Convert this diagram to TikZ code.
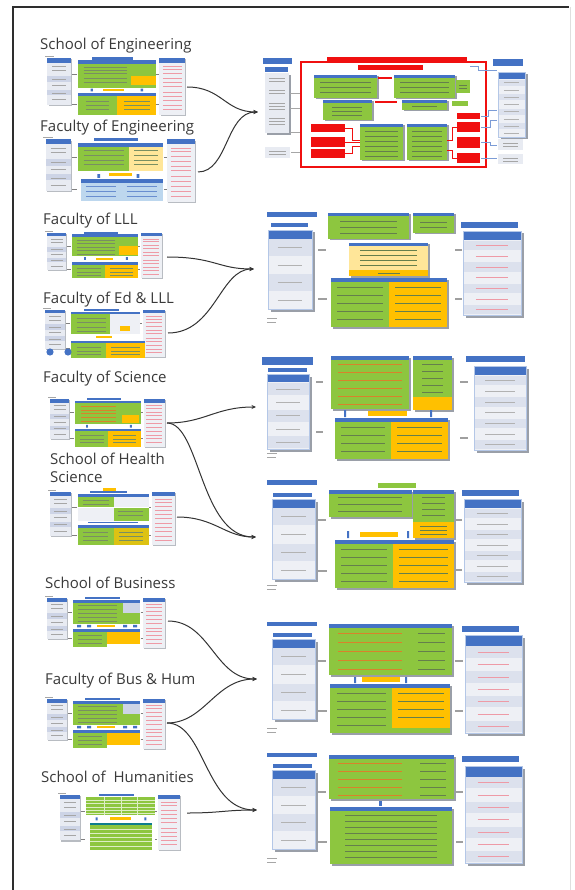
\documentclass[tikz,border=0pt]{standalone}
\usepackage{fontspec}
\setmainfont{Open Sans}
\usetikzlibrary{arrows.meta}
\definecolor{hdrblue}{HTML}{4472C4}
\definecolor{grn}{HTML}{8DC63F}
\definecolor{ylw}{HTML}{FFC000}
\definecolor{lylw}{HTML}{FFE699}
\definecolor{colbg}{HTML}{E8EBF2}
\definecolor{colbgb}{HTML}{EEF0F5}
\definecolor{rowband}{HTML}{CDD4E6}
\definecolor{shadowgray}{HTML}{9A9FA8}
\definecolor{pinkline}{HTML}{EE9AA6}
\definecolor{txtdark}{HTML}{3F5F1F}
\definecolor{txtorange}{HTML}{D9822B}
\definecolor{redbox}{HTML}{F01010}
\definecolor{lblue}{HTML}{BDD7EE}
\definecolor{labelgray}{HTML}{3A3A3A}
\definecolor{framegray}{HTML}{2E2E2E}
\definecolor{conncol}{HTML}{333333}
\tikzset{
 lbl/.style={font=\fontsize{15}{18}\selectfont, text=labelgray, anchor=west, inner sep=0pt, align=left},
 conn/.style={draw=conncol, line width=1pt, -{Stealth[length=4.5pt,width=4pt]}},
 tln/.style={line width=0.35pt, draw=txtdark!70},
 oln/.style={line width=0.5pt, draw=txtorange},
 dln/.style={line width=0.5pt, draw=txtdark!80},
 gln/.style={line width=0.4pt, draw=gray!70},
 bln/.style={line width=0.4pt, draw=hdrblue!80},
 dashbar/.style={line width=1.3pt, draw=gray!75},
}
% text lines
\newcommand\tlines[6]{\foreach \yy in {#3,#4,...,#5} \draw[#6] (#1,\yy) -- (#2,\yy);}
% block with header
\newcommand\gblk[5]{%
 \fill[shadowgray] ({#1+1.5},{#2+1.5}) rectangle ({#3+1.5},{#4+1.5});
 \fill[#5] (#1,#2) rectangle (#3,#4);
 \fill[hdrblue] (#1,#2) rectangle (#3,{#2+3.5});}
% column box
\newcommand\tcol[6]{%
 \pgfmathsetmacro\cxa{#1}\pgfmathsetmacro\cxb{#2}\pgfmathsetmacro\cya{#3}\pgfmathsetmacro\cyb{#4}
 \pgfmathsetmacro\hh{(\cyb-\cya)*0.11}
 \pgfmathsetmacro\rh{(\cyb-\cya-\hh)/#5}
 \fill[shadowgray] ({\cxa+2.5},{\cya+2.5}) rectangle ({\cxb+2.5},{\cyb+2.5});
 \fill[colbgb] (\cxa,\cya) rectangle (\cxb,\cyb);
 \fill[hdrblue] (\cxa,\cya) rectangle (\cxb,{\cya+\hh});
 \foreach \i in {1,...,#5} {
   \pgfmathsetmacro\ry{\cya+\hh+(\i-1)*\rh}
   \pgfmathtruncatemacro\rowpar{mod(\i,2)}
   \ifnum\rowpar=1 \fill[rowband!70] (\cxa,{\ry+0.6}) rectangle (\cxb,{\ry+\rh-0.6});\fi
   \draw[#6, line width=0.8pt] ({\cxa+(\cxb-\cxa)*0.22},{\ry+\rh*0.5}) -- ({\cxb-(\cxb-\cxa)*0.22},{\ry+\rh*0.5});
 }
 \draw[hdrblue!40, line width=0.3pt] (\cxa,\cya) rectangle (\cxb,\cyb);}
% small thumbnail frame (local 120 x 55)
\newcommand\thumbframe{%
 \draw[gray!70, line width=0.4pt] (0,0.3) -- (8,0.3);
 \fill[shadowgray!70] (3,3) rectangle (23,46);
 \fill[colbg] (2,2) rectangle (22,45);
 \fill[hdrblue] (2,2) rectangle (22,6);
 \fill[rowband] (2,18) rectangle (22,24);
 \fill[rowband] (2,31) rectangle (22,36);
 \foreach \yy in {9,13,21,27,34,40} \draw[gln] (6,\yy) -- (18,\yy);
 \draw[gray, line width=0.6pt] (23,17)--(27,17) (23,44)--(27,44) (95.5,17)--(97.5,17) (95.5,44)--(97.5,44);
 \fill[shadowgray!70] (99,3) rectangle (121,55);
 \fill[colbgb] (98,2) rectangle (120,54);
 \fill[hdrblue] (98,2) rectangle (120,6);
 \foreach \yy in {9,12,16,20,24,28,33,37,41,45,49} \draw[pinkline, line width=0.5pt] (101,\yy) -- (117,\yy);
 \fill[hdrblue] (40,0.8) rectangle (75,3.3);}
\newcommand\thumb[5]{%
 \begin{scope}[shift={(#1,#2)}, xscale={#3/120}, yscale={#4/55}]
 \thumbframe
 #5
 \end{scope}}
\begin{document}
\begin{tikzpicture}[x=1pt,y=-1pt]
\useasboundingbox (0,0) rectangle (574,890);
\fill[white] (0,0) rectangle (574,890);
\draw[gray!25, line width=0.6pt] (570,7) -- (570,890);
\draw[framegray, line width=1.3pt] (13,890) -- (13,7) -- (569,7);

% ---------- labels ----------
\node[lbl] (lab1) at (40,46) {School of Engineering};
\node[lbl] (lab2) at (40,128) {Faculty of Engineering};
\node[lbl] (lab3) at (43,221) {Faculty of LLL};
\node[lbl] (lab4) at (43,300) {Faculty of Ed \& LLL};
\node[lbl] (lab5) at (43,379) {Faculty of Science};
\node[lbl] (lab6) at (50,468) {School of Health\\Science};
\node[lbl] (lab8) at (45,583) {School of Business};
\node[lbl] (lab9) at (45,681) {Faculty of Bus \& Hum};
\node[lbl] (lab10) at (41,777) {School of\ \ Humanities};

% ---------- left thumbnails ----------
\thumb{45}{56}{140}{60}{%
 \fill[hdrblue] (28,4) rectangle (95,7);
 \fill[grn] (28,7) rectangle (95,29);
 \fill[ylw] (74,18) rectangle (95,27);
 \foreach \yy in {10,13,16,20,24} \draw[tln] (33,\yy) -- (70,\yy);
 \fill[hdrblue] (39,30) rectangle (41,32.5) (82,30) rectangle (84,32.5);
 \fill[ylw] (50,30) rectangle (68,32.5);
 \fill[hdrblue] (28,34) rectangle (95,37);
 \fill[grn] (28,37) rectangle (62,54);
 \fill[ylw] (62,37) rectangle (95,54);
 \foreach \yy in {41,45,49} {\draw[tln] (35,\yy) -- (55,\yy); \draw[tln] (68,\yy) -- (90,\yy);}}
\thumb{43}{137}{152}{66}{%
 \fill[hdrblue] (28,5) rectangle (95,8);
 \fill[grn] (28,8) rectangle (68,28);
 \fill[lylw] (68,8) rectangle (95,28);
 \foreach \yy in {11,15,19,23} {\draw[tln] (32,\yy) -- (64,\yy); \draw[tln] (72,\yy) -- (91,\yy);}
 \fill[ylw] (52,30) rectangle (70,32.5);
 \fill[hdrblue] (43,31) rectangle (45,34) (74,31) rectangle (76,34);
 \fill[hdrblue] (30,35) rectangle (95,38);
 \fill[lblue] (30,38) rectangle (95,53);
 \foreach \yy in {41,45,49} {\draw[bln] (34,\yy) -- (58,\yy); \draw[bln] (66,\yy) -- (90,\yy);}}
\thumb{45}{231}{117}{48}{%
 \fill[hdrblue] (28,4) rectangle (95,7);
 \fill[grn] (28,7) rectangle (95,29);
 \fill[ylw] (76,17) rectangle (95,27);
 \foreach \yy in {10,14,18,22,26} \draw[tln] (33,\yy) -- (72,\yy);
 \fill[hdrblue] (40,30) rectangle (42,33) (83,30) rectangle (85,33);
 \fill[ylw] (52,30.5) rectangle (70,33);
 \fill[hdrblue] (28,36) rectangle (95,39);
 \fill[grn] (28,39) rectangle (62,54);
 \fill[ylw] (62,39) rectangle (95,54);
 \foreach \yy in {43,47,51} {\draw[tln] (33,\yy) -- (57,\yy); \draw[tln] (67,\yy) -- (90,\yy);}}
\thumb{43}{308}{122}{50}{%
 \fill[hdrblue] (28,4) rectangle (95,7);
 \fill[grn] (28,7) rectangle (66,29);
 \fill[colbgb] (66,7) rectangle (95,29);
 \fill[ylw] (76,20) rectangle (86,25);
 \foreach \yy in {11,16,21,26} \draw[tln] (33,\yy) -- (62,\yy);
 \fill[ylw] (52,30.5) rectangle (68,33);
 \fill[hdrblue] (28,36) rectangle (100,39);
 \fill[grn] (28,39) rectangle (62,55);
 \fill[ylw] (62,39) rectangle (100,55);
 \foreach \yy in {43,47,51} {\draw[tln] (33,\yy) -- (57,\yy); \draw[tln] (67,\yy) -- (95,\yy);}}
\fill[hdrblue] (50,352) circle (3.6);
\fill[hdrblue] (68,352) circle (3.6);
\thumb{48}{397}{117}{51}{%
 \fill[hdrblue] (28,4) rectangle (95,7);
 \fill[grn] (28,7) rectangle (95,29);
 \fill[ylw] (76,19) rectangle (93,28);
 \foreach \yy in {10,14,18,22,26} \draw[oln] (34,\yy) -- (70,\yy);
 \fill[hdrblue] (39,30) rectangle (41,33) (84,30) rectangle (86,33);
 \fill[hdrblue] (28,34) rectangle (95,37);
 \fill[grn] (28,37) rectangle (62,54);
 \fill[ylw] (62,37) rectangle (95,54);
 \foreach \yy in {41,45,49} {\draw[tln] (33,\yy) -- (57,\yy); \draw[tln] (67,\yy) -- (90,\yy);}}
\thumb{48}{490}{127}{56}{%
 \fill[ylw] (52,-1.5) rectangle (64,0.5);
 \fill[hdrblue] (28,4) rectangle (95,7);
 \fill[grn] (28,7) rectangle (62,17);
 \fill[colbgb] (28,18) rectangle (62,30);
 \fill[colbgb] (62,7) rectangle (95,17);
 \fill[grn] (62,18) rectangle (95,30);
 \foreach \yy in {10,14} \draw[tln] (33,\yy) -- (58,\yy);
 \foreach \yy in {21,25} \draw[tln] (66,\yy) -- (90,\yy);
 \fill[hdrblue] (38,31) rectangle (85,32.5);
 \fill[hdrblue] (28,34) rectangle (95,37);
 \fill[grn] (28,37) rectangle (62,54);
 \fill[ylw!70!grn] (62,37) rectangle (95,54);
 \foreach \yy in {41,45,49} {\draw[tln] (33,\yy) -- (57,\yy); \draw[tln] (67,\yy) -- (90,\yy);}}
\thumb{45}{596}{120}{53}{%
 \fill[hdrblue] (28,4) rectangle (95,7);
 \fill[grn] (28,7) rectangle (95,29);
 \fill[rowband] (78,7) rectangle (95,18);
 \foreach \yy in {10,14,18,22,26} \draw[tln] (33,\yy) -- (72,\yy);
 \fill[hdrblue] (32,30) rectangle (36,32.5) (42,30) rectangle (46,32.5) (78,30) rectangle (82,32.5) (88,30) rectangle (92,32.5);
 \fill[ylw] (52,30) rectangle (70,32.5);
 \fill[hdrblue] (28,34) rectangle (95,37);
 \fill[grn] (28,37) rectangle (62,53);
 \fill[ylw] (62,37) rectangle (95,50);
 \foreach \yy in {41,45,49} {\draw[tln] (33,\yy) -- (57,\yy);}}
\thumb{45}{697}{120}{53}{%
 \fill[hdrblue] (28,4) rectangle (95,7);
 \fill[grn] (28,7) rectangle (95,29);
 \fill[rowband] (78,7) rectangle (95,18);
 \foreach \yy in {10,14,18,22,26} \draw[tln] (33,\yy) -- (72,\yy);
 \fill[hdrblue] (32,30) rectangle (36,32.5) (42,30) rectangle (46,32.5) (78,30) rectangle (82,32.5) (88,30) rectangle (92,32.5);
 \fill[ylw] (52,30) rectangle (70,32.5);
 \fill[hdrblue] (28,34) rectangle (95,37);
 \fill[grn] (28,37) rectangle (62,53);
 \fill[ylw] (62,37) rectangle (95,50);
 \foreach \yy in {41,45,49} {\draw[tln] (33,\yy) -- (57,\yy);}}
\thumb{58}{793}{122}{58}{%
 \fill[grn] (28,4) rectangle (95,21);
 \foreach \yy in {7,10,13,16,19} \draw[line width=0.3pt, draw=white!70!grn] (28,\yy) -- (95,\yy);
 \foreach \xx in {45,62,78} \draw[line width=0.3pt, draw=white!70!grn] (\xx,4) -- (\xx,21);
 \fill[hdrblue] (37,23) rectangle (39,26) (85,23) rectangle (87,26);
 \fill[ylw] (51,23) rectangle (72,25.5);
 \fill[teal!80!hdrblue] (31,28) rectangle (92,30.5);
 \fill[grn] (31,30.5) rectangle (92,54);
 \foreach \yy in {34,38,42,46,50} \draw[line width=0.3pt, draw=white!70!grn] (31,\yy) -- (92,\yy);}

% ---------- target A (Engineering) ----------
\fill[hdrblue] (263,58) rectangle (292,64);
\fill[hdrblue] (265,67) rectangle (288,72);
\fill[shadowgray] (267,75) rectangle (291,135);
\fill[colbg] (265,73) rectangle (289,133);
\foreach \yy in {78,81,90,93,103,106,109,118,121,124} \draw[gln] (269,\yy) -- (285,\yy);
\fill[colbg] (265,147) rectangle (290,158);
\foreach \yy in {151,154} \draw[gln] (269,\yy) -- (286,\yy);
\draw[gray!70, line width=0.5pt] (290,93) -- (301,93) (290,108) -- (301,108) (290,132) -- (301,132) (291,152) -- (301,152);
\fill[redbox] (327,57) rectangle (467,62);
\draw[redbox, line width=1.3pt] (301,62) rectangle (486,167);
\fill[redbox] (358,65) rectangle (423,70);
\gblk{314}{75}{377}{98}{grn}
\tlines{320}{371}{82}{87}{95}{dln}
\fill[redbox] (378,77) rectangle (392,79.5);
\gblk{394}{75}{455}{98}{grn}
\tlines{400}{449}{82}{87}{95}{dln}
\fill[grn] (456,80) rectangle (470,93);
\draw[dln] (459,85) -- (467,85) (459,88) -- (467,88);
\gblk{323}{100}{372}{120}{grn}
\tlines{332}{362}{107}{111}{115}{dln}
\fill[redbox] (375,101) rectangle (397,103);
\gblk{402}{100}{447}{110}{grn}
\draw[dln] (412,106) -- (437,106);
\fill[grn] (452,101) rectangle (468,106);
\fill[redbox] (311,124) rectangle (345,132);
\fill[redbox] (311,137) rectangle (345,147);
\fill[redbox] (311,149) rectangle (345,158);
\gblk{360}{124}{403}{160}{grn}
\tlines{365}{398}{131}{136}{156}{dln}
\gblk{407}{124}{447}{160}{grn}
\tlines{412}{442}{131}{136}{156}{dln}
\draw[redbox, line width=0.6pt] (345,128) -- (352,128) -- (352,140) -- (360,140) (345,142) -- (360,142) (345,153) -- (352,153) -- (352,146) -- (360,146);
\fill[redbox] (457,113) rectangle (480,119);
\fill[redbox] (457,122) rectangle (480,132);
\fill[redbox] (457,137) rectangle (480,148);
\fill[redbox] (457,153) rectangle (480,163);
\draw[redbox, line width=0.6pt] (447,140) -- (452,140) -- (452,127) -- (457,127) (447,150) -- (452,150) -- (452,158) -- (457,158);
\fill[hdrblue] (493,59) rectangle (523,66);
\tcol{498}{525}{72}{137}{8}{gray!60}
\fill[colbg] (498,139) rectangle (523,150);
\fill[colbg] (498,154) rectangle (523,164);
\draw[gray!70, line width=0.4pt] (503,143) -- (518,143) (503,146) -- (518,146) (503,158) -- (518,158) (503,161) -- (518,161);
\draw[hdrblue!70, line width=0.5pt] (470,66) -- (478,66) -- (478,70) -- (497,70) (481,116) -- (488,116) -- (488,110) -- (497,110) (481,127) -- (490,127) -- (490,120) -- (497,120) (481,142) -- (490,142) -- (490,145) -- (497,145) (481,158) -- (497,158);

% ---------- target B (LLL) ----------
\fill[hdrblue] (267,212) rectangle (317,217);
\fill[hdrblue] (271,223) rectangle (308,227);
\tcol{268}{312}{230}{309}{4}{gray!60}
\draw[gln] (267,318) -- (277,318) (267,322) -- (276,322);
\gblk{328}{213}{409}{239}{grn}
\tlines{340}{397}{221}{227}{233}{dln}
\gblk{413}{213}{454}{233}{grn}
\tlines{420}{447}{222}{227}{227}{dln}
\gblk{349}{243}{428}{276}{lylw}
\tlines{360}{417}{250}{255}{265}{dln}
\fill[ylw] (349,270) rectangle (428,276);
\draw[dln] (378,273) -- (400,273);
\gblk{331}{278}{447}{327}{grn}
\fill[ylw] (389,281.5) rectangle (447,327);
\tlines{337}{383}{287}{295}{319}{dln}
\tlines{395}{441}{287}{295}{319}{dln}
\fill[hdrblue] (461,222) rectangle (518,228);
\tcol{463}{521}{231}{315}{7}{pinkline}
\draw[dashbar] (318,250) -- (326,250) (318,299) -- (327,299) (455,250) -- (462,250) (455,299) -- (462,299);

% ---------- target C (Science) ----------
\fill[hdrblue] (262,357) rectangle (313,365);
\fill[hdrblue] (268,368) rectangle (307,372);
\tcol{267}{309}{374}{449}{5}{gray!60}
\draw[gln] (267,453) -- (277,453) (267,457) -- (276,457);
\gblk{331}{356}{409}{409}{grn}
\tlines{338}{402}{364}{372}{404}{oln}
\gblk{413}{356}{452}{410}{grn}
\tlines{422}{443}{364}{371}{392}{dln}
\fill[ylw] (413,397) rectangle (452,410);
\fill[ylw] (368,411) rectangle (407,416);
\fill[hdrblue] (344,410) rectangle (346,417) (430,410) rectangle (432,417);
\gblk{335}{418}{448}{459}{grn}
\fill[ylw] (391,421.5) rectangle (448,459);
\tlines{341}{385}{427}{435}{451}{dln}
\tlines{397}{442}{427}{435}{451}{dln}
\fill[hdrblue] (466,356) rectangle (525,362);
\tcol{474}{526}{366}{450}{7}{gray!60}
\draw[dashbar] (316,382) -- (323,382) (316,432) -- (323,432) (460,382) -- (468,382) (460,438) -- (468,438);

% ---------- target D (Health) ----------
\fill[hdrblue] (267,480) rectangle (317,485);
\fill[grn] (378,483) rectangle (416,488);
\fill[hdrblue] (273,493) rectangle (312,497);
\tcol{272}{315}{499}{579}{4}{gray!60}
\draw[gln] (267,585) -- (277,585) (267,589) -- (276,589);
\gblk{329}{490}{412}{517}{grn}
\tlines{338}{402}{497}{504}{511}{dln}
\gblk{413}{490}{454}{538}{grn}
\tlines{422}{445}{497}{503}{515}{dln}
\fill[ylw] (413,522) rectangle (454,538);
\tlines{420}{447}{526}{530}{534}{dln}
\fill[ylw] (360,532) rectangle (398,537);
\fill[hdrblue] (347,531) rectangle (349,538) (407,531) rectangle (409,538);
\gblk{335}{540}{454}{588}{grn}
\fill[ylw] (393,543.5) rectangle (454,588);
\tlines{341}{387}{549}{557}{581}{dln}
\tlines{399}{448}{549}{557}{581}{dln}
\fill[hdrblue] (462,490) rectangle (519,496);
\tcol{464}{521}{499}{582}{7}{gray!60}
\draw[dashbar] (318,520) -- (326,520) (318,571) -- (327,571) (456,520) -- (462,520) (456,570) -- (462,570);

% ---------- target E (Business) ----------
\fill[hdrblue] (267,622) rectangle (317,626);
\fill[hdrblue] (273,633) rectangle (312,637);
\tcol{272}{315}{639}{719}{4}{gray!60}
\draw[gln] (267,728) -- (277,728) (267,732) -- (276,732);
\gblk{329}{624}{411}{675}{grn}
\tlines{338}{402}{633}{642}{669}{oln}
\gblk{411}{624}{452}{675}{grn}
\tlines{418}{445}{633}{642}{669}{dln}
\fill[ylw] (362,677) rectangle (400,682);
\fill[hdrblue] (354,677) rectangle (356,683) (405,677) rectangle (407,683);
\gblk{330}{684}{450}{733}{grn}
\fill[ylw] (392,687.5) rectangle (450,728);
\tlines{337}{386}{693}{701}{725}{dln}
\tlines{398}{444}{693}{701}{717}{dln}
\fill[hdrblue] (462,626) rectangle (519,632);
\tcol{465}{522}{635}{733}{7}{pinkline}
\draw[dashbar] (318,661) -- (326,661) (318,711) -- (327,711) (455,661) -- (463,661) (455,711) -- (463,711);

% ---------- target F (Humanities) ----------
\fill[hdrblue] (267,753) rectangle (317,757);
\fill[hdrblue] (273,764) rectangle (312,768);
\tcol{272}{315}{770}{849}{4}{gray!60}
\draw[gln] (267,858) -- (277,858) (267,862) -- (276,862);
\gblk{329}{755}{412}{799}{grn}
\tlines{338}{402}{763}{771}{795}{oln}
\gblk{412}{755}{454}{799}{grn}
\tlines{420}{446}{763}{771}{795}{dln}
\fill[hdrblue] (379,801) rectangle (382,806);
\gblk{330}{807}{452}{864}{grn}
\tlines{345}{437}{815}{821}{857}{dln}
\fill[hdrblue] (462,756) rectangle (519,762);
\tcol{465}{522}{766}{863}{7}{pinkline}
\draw[dashbar] (318,792) -- (326,792) (318,842) -- (327,842) (456,792) -- (463,792) (456,842) -- (463,842);

% ---------- connectors ----------
\coordinate (sEng) at (187,87);
\coordinate (fEng) at (198,172);
\coordinate (sLLL) at (167,257);
\coordinate (sEd) at (168,333);
\coordinate (sSci) at (167,423);
\coordinate (sHea) at (177,517);
\coordinate (sBus) at (168,621);
\coordinate (sBH) at (167,723);
\coordinate (sHum) at (187,813);
\coordinate (tA) at (258,112);
\coordinate (tB) at (254,269);
\coordinate (tC) at (256,407);
\coordinate (tD) at (256,537);
\coordinate (tE) at (257,679);
\coordinate (tF) at (257,810);
\draw[conn] (sEng) .. controls (222,87) and (225,112) .. (tA);
\draw[conn] (fEng) .. controls (228,172) and (226,112) .. (tA);
\draw[conn] (sLLL) .. controls (215,257) and (218,269) .. (tB);
\draw[conn] (sEd) .. controls (215,333) and (220,269) .. (tB);
\draw[conn] (sSci) .. controls (205,423) and (215,407) .. (tC);
\draw[conn] (sSci) .. controls (200,423) and (200,537) .. (tD);
\draw[conn] (sHea) .. controls (215,517) and (225,537) .. (tD);
\draw[conn] (sBus) .. controls (210,621) and (215,679) .. (tE);
\draw[conn] (sBH) .. controls (205,723) and (215,679) .. (tE);
\draw[conn] (sBH) .. controls (205,723) and (205,810) .. (tF);
\draw[conn] (sHum) .. controls (220,813) and (225,810) .. (tF);
\end{tikzpicture}
\end{document}
